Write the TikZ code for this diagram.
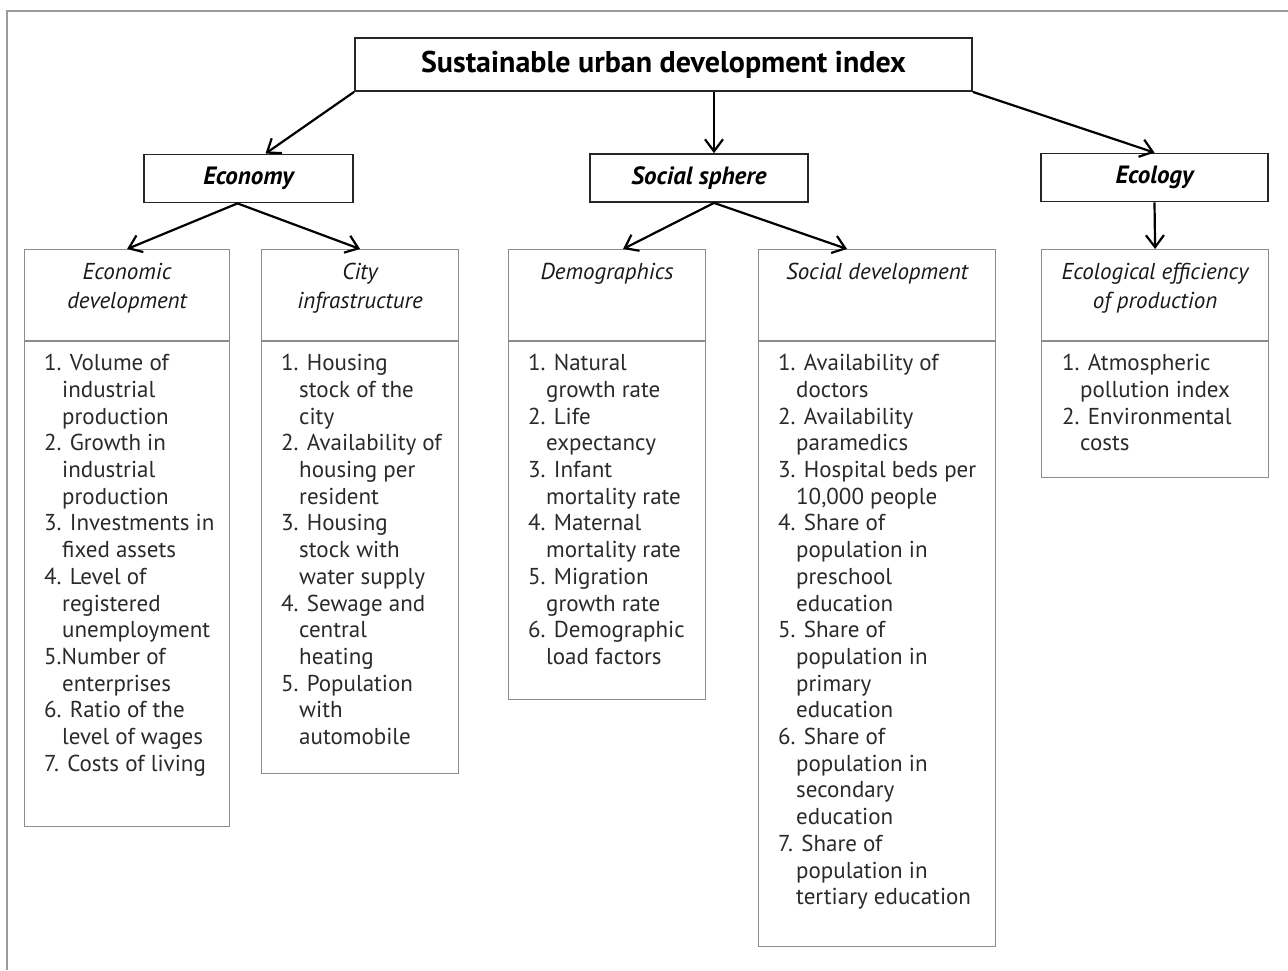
\documentclass[tikz,border=0pt]{standalone}
\usepackage{fontspec}
\setmainfont{PT Sans}
\usetikzlibrary{arrows.meta}
\usetikzlibrary{positioning}

\definecolor{framegray}{HTML}{9A9A9A}
\definecolor{boxgray}{HTML}{8C8C8C}
\definecolor{textgray}{HTML}{2A2A2A}

\newcommand{\ind}{\hspace*{18pt}}

\tikzset{
  mainbox/.style={draw=black!85, line width=1.8pt, inner sep=0pt, font=\fontsize{30}{34}\selectfont\bfseries},
  groupbox/.style={draw=black!85, line width=1.8pt, inner sep=0pt, minimum height=48pt, font=\fontsize{25}{28}\selectfont\bfseries\itshape},
  colbox/.style={draw=boxgray, line width=1.2pt, inner sep=0pt, anchor=north west},
  headtext/.style={anchor=north, align=center, inner sep=0pt, text=black!90, font=\fontsize{23}{29}\selectfont\itshape},
  listtext/.style={anchor=north west, align=left, inner sep=0pt, text=textgray, font=\fontsize{23}{26.7}\selectfont},
  link/.style={-{Straight Barb[length=12pt,width=18pt]}, line width=2.2pt, black}
}

\begin{document}
\begin{tikzpicture}[x=1pt, y=-1pt]
  \useasboundingbox (0,0) rectangle (1288,970);
  \draw[framegray, line width=2pt] (1288,11) -- (7,11) -- (7,970);

  % top level
  \node[mainbox, minimum width=617pt, minimum height=53pt] (index) at (663.5,64.5) {Sustainable urban development index};

  \node[groupbox, minimum width=209pt] (econ) at (248.5,178.5) {Economy};
  \node[groupbox, minimum width=218pt] (social) at (699,178) {Social sphere};
  \node[groupbox, minimum width=227pt] (eco) at (1154.5,177.5) {Ecology};

  % columns
  \node[colbox, minimum width=205pt, minimum height=91pt] (econdevhead) at (24,249) {};
  \node[colbox, minimum width=205pt, minimum height=485pt, below=0pt of econdevhead] (econdevlist) {};
  \node[colbox, minimum width=197pt, minimum height=91pt] (cityinfhead) at (261,249) {};
  \node[colbox, minimum width=197pt, minimum height=432pt, below=0pt of cityinfhead] (cityinflist) {};
  \node[colbox, minimum width=197pt, minimum height=91pt] (demohead) at (508,249) {};
  \node[colbox, minimum width=197pt, minimum height=358pt, below=0pt of demohead] (demolist) {};
  \node[colbox, minimum width=237pt, minimum height=91pt] (socdevhead) at (758,249) {};
  \node[colbox, minimum width=237pt, minimum height=605pt, below=0pt of socdevhead] (socdevlist) {};
  \node[colbox, minimum width=227pt, minimum height=91pt] (ecoeffhead) at (1041,249) {};
  \node[colbox, minimum width=227pt, minimum height=136pt, below=0pt of ecoeffhead] (ecoefflist) {};

  % column titles
  \node[headtext] (econdevtitle) at ([yshift=-14pt]econdevhead.north) {Economic\\development};
  \node[headtext] (cityinftitle) at ([yshift=-14pt]cityinfhead.north) {City\\infrastructure};
  \node[headtext] (demotitle) at ([yshift=-14pt]demohead.north) {Demographics};
  \node[headtext] (socdevtitle) at ([yshift=-14pt]socdevhead.north) {Social development};
  \node[headtext] (ecoefftitle) at ([yshift=-14pt]ecoeffhead.north) {Ecological efficiency\\of production};

  % column items
  \node[listtext] (econdevitems) at ([xshift=20pt,yshift=-13pt]econdevlist.north west)
    {1. Volume of\\\ind industrial\\\ind production\\2. Growth in\\\ind industrial\\\ind production\\
     3. Investments in\\\ind fixed assets\\4. Level of\\\ind registered\\\ind unemployment\\
     5.Number of\\\ind enterprises\\6. Ratio of the\\\ind level of wages\\7. Costs of living};
  \node[listtext] (cityinfitems) at ([xshift=20pt,yshift=-13pt]cityinflist.north west)
    {1. Housing\\\ind stock of the\\\ind city\\2. Availability of\\\ind housing per\\\ind resident\\
     3. Housing\\\ind stock with\\\ind water supply\\4. Sewage and\\\ind central\\\ind heating\\
     5. Population\\\ind with\\\ind automobile};
  \node[listtext] (demoitems) at ([xshift=20pt,yshift=-13pt]demolist.north west)
    {1. Natural\\\ind growth rate\\2. Life\\\ind expectancy\\3. Infant\\\ind mortality rate\\
     4. Maternal\\\ind mortality rate\\5. Migration\\\ind growth rate\\6. Demographic\\\ind load factors};
  \node[listtext] (socdevitems) at ([xshift=20pt,yshift=-13pt]socdevlist.north west)
    {1. Availability of\\\ind doctors\\2. Availability\\\ind paramedics\\3. Hospital beds per\\\ind 10,000 people\\
     4. Share of\\\ind population in\\\ind preschool\\\ind education\\
     5. Share of\\\ind population in\\\ind primary\\\ind education\\
     6. Share of\\\ind population in\\\ind secondary\\\ind education\\
     7. Share of\\\ind population in\\\ind tertiary education};
  \node[listtext] (ecoeffitems) at ([xshift=21pt,yshift=-13pt]ecoefflist.north west)
    {1. Atmospheric\\\ind pollution index\\2. Environmental\\\ind costs};

  % arrows
  \draw[link] (index.south west) -- ([xshift=17pt]econ.north);
  \draw[link] ([xshift=15pt]social.north |- index.south) -- ([xshift=15pt]social.north);
  \draw[link] (index.south east) -- (eco.north);
  \draw[link] ([xshift=-11pt]econ.south) -- (econdevhead.north);
  \draw[link] ([xshift=-11pt]econ.south) -- (cityinfhead.north);
  \draw[link] ([xshift=15pt]social.south) -- ([xshift=16pt]demohead.north);
  \draw[link] ([xshift=15pt]social.south) -- ([xshift=-30pt]socdevhead.north);
  \draw[link] (eco.south) -- (ecoeffhead.north);
\end{tikzpicture}
\end{document}
